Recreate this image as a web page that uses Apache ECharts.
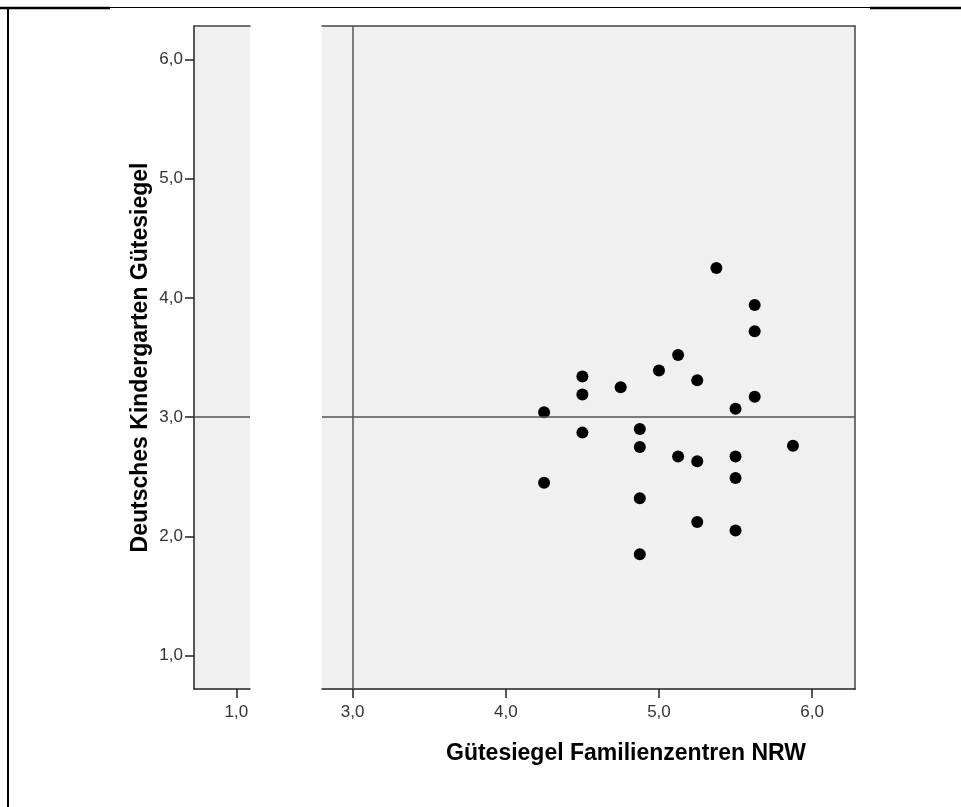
<!DOCTYPE html>
<html>
<head>
<meta charset="utf-8">
<script src="https://cdn.jsdelivr.net/npm/echarts@6/dist/echarts.min.js"></script>
<style>
  html, body { margin: 0; padding: 0; background: #fff; }
  #chart { width: 961px; height: 807px; }
</style>
</head>
<body>
<div id="chart"></div>
<script>
// Gütesiegel Familienzentren NRW (x) gegen Deutsches Kindergarten Gütesiegel (y)
const xValues = [4.25, 4.25, 4.5, 4.5, 4.5, 4.75, 4.875, 4.875, 4.875, 4.875, 5.0, 5.125, 5.125,
  5.25, 5.25, 5.25, 5.375, 5.5, 5.5, 5.5, 5.5, 5.625, 5.625, 5.625, 5.875]
const yValues = [3.04, 2.45, 3.34, 3.19, 2.87, 3.25, 2.90, 2.75, 2.32, 1.85, 3.39, 3.52, 2.67,
  3.31, 2.63, 2.12, 4.25, 3.07, 2.67, 2.49, 2.05, 3.94, 3.72, 3.17, 2.76]

const yTicks = [1, 2, 3, 4, 5, 6]
const xTicksLeft = [1]
const xTicksRight = [3, 4, 5, 6]
const refX = 3
const refY = 3

const font = "'Liberation Sans', Arial, sans-serif"
const fmt = v => v.toFixed(1).replace('.', ',')

const points = xValues.map((x, i) => [x, yValues[i]])

const chart = echarts.init(document.getElementById('chart'))

const tickLabel = (vals, extra) => Object.assign({
  customValues: vals,
  formatter: fmt,
  color: '#333',
  fontSize: 17,
  fontFamily: font
}, extra || {})

const borderAxis = {
  show: true,
  axisLine: { show: true, lineStyle: { color: '#444', width: 1.5 } },
  axisTick: { show: false },
  axisLabel: { show: false },
  splitLine: { show: false }
}

const option = {
  animation: false,
  backgroundColor: '#fff',
  grid: [
    { left: 194, right: 711, top: 26, bottom: 118, show: true, backgroundColor: '#f0f0f0', borderWidth: 0 },
    { left: 322, right: 106, top: 26, bottom: 118, show: true, backgroundColor: '#f0f0f0', borderWidth: 0 }
  ],
  xAxis: [
    {
      gridIndex: 0, type: 'value', min: 0.72, max: 1.09,
      axisLine: { lineStyle: { color: '#222', width: 1.5 } },
      axisTick: { customValues: xTicksLeft, length: 9, lineStyle: { color: '#222', width: 1.5 } },
      axisLabel: tickLabel(xTicksLeft, { margin: 15 }),
      splitLine: { show: false }
    },
    {
      gridIndex: 1, type: 'value', min: 2.8, max: 6.28,
      axisLine: { lineStyle: { color: '#222', width: 1.5 } },
      axisTick: { customValues: xTicksRight, length: 9, lineStyle: { color: '#222', width: 1.5 } },
      axisLabel: tickLabel(xTicksRight, { margin: 15 }),
      splitLine: { show: false }
    },
    Object.assign({ gridIndex: 0, type: 'value', position: 'top', min: 0.72, max: 1.09 }, borderAxis),
    Object.assign({ gridIndex: 1, type: 'value', position: 'top', min: 2.8, max: 6.28 }, borderAxis)
  ],
  yAxis: [
    {
      gridIndex: 0, type: 'value', min: 0.72, max: 6.28,
      name: 'Deutsches Kindergarten Gütesiegel',
      nameLocation: 'middle',
      nameGap: 42,
      nameTextStyle: { color: '#000', fontSize: 23, fontWeight: 'bold', fontFamily: font },
      axisLine: { show: true, lineStyle: { color: '#222', width: 1.5 } },
      axisTick: { show: true, customValues: yTicks, length: 9, lineStyle: { color: '#222', width: 1.5 } },
      axisLabel: tickLabel(yTicks, { margin: 11 }),
      splitLine: { show: false }
    },
    {
      gridIndex: 1, type: 'value', min: 0.72, max: 6.28,
      axisLine: { show: false },
      axisTick: { show: false },
      axisLabel: { show: false },
      splitLine: { show: false }
    },
    Object.assign({ gridIndex: 1, type: 'value', position: 'right', min: 0.72, max: 6.28 }, borderAxis)
  ],
  series: [
    {
      type: 'scatter',
      xAxisIndex: 0, yAxisIndex: 0,
      data: [],
      silent: true,
      markLine: {
        silent: true,
        symbol: 'none',
        label: { show: false },
        lineStyle: { color: '#555', width: 1.5, type: 'solid' },
        data: [{ yAxis: refY }]
      }
    },
    {
      type: 'scatter',
      xAxisIndex: 1, yAxisIndex: 1,
      data: points,
      symbol: 'circle',
      symbolSize: 12,
      itemStyle: { color: '#000', opacity: 1 },
      markLine: {
        silent: true,
        symbol: 'none',
        label: { show: false },
        lineStyle: { color: '#555', width: 1.5, type: 'solid' },
        data: [{ xAxis: refX }, { yAxis: refY }]
      }
    }
  ],
  graphic: [
    // Rahmen
    { type: 'line', shape: { x1: 0, y1: 8, x2: 110, y2: 8 }, style: { stroke: '#000', lineWidth: 2.5 } },
    { type: 'line', shape: { x1: 110, y1: 7.5, x2: 870, y2: 7.5 }, style: { stroke: '#000', lineWidth: 1.2 } },
    { type: 'line', shape: { x1: 870, y1: 8, x2: 961, y2: 8 }, style: { stroke: '#000', lineWidth: 2.5 } },
    { type: 'line', shape: { x1: 8, y1: 7, x2: 8, y2: 807 }, style: { stroke: '#000', lineWidth: 2 } },
    {
      type: 'text', left: 446, top: 742,
      style: { text: 'Gütesiegel Familienzentren NRW', fill: '#000', font: 'bold 23px ' + font }
    }
  ]
}

chart.setOption(option)
</script>
</body>
</html>
